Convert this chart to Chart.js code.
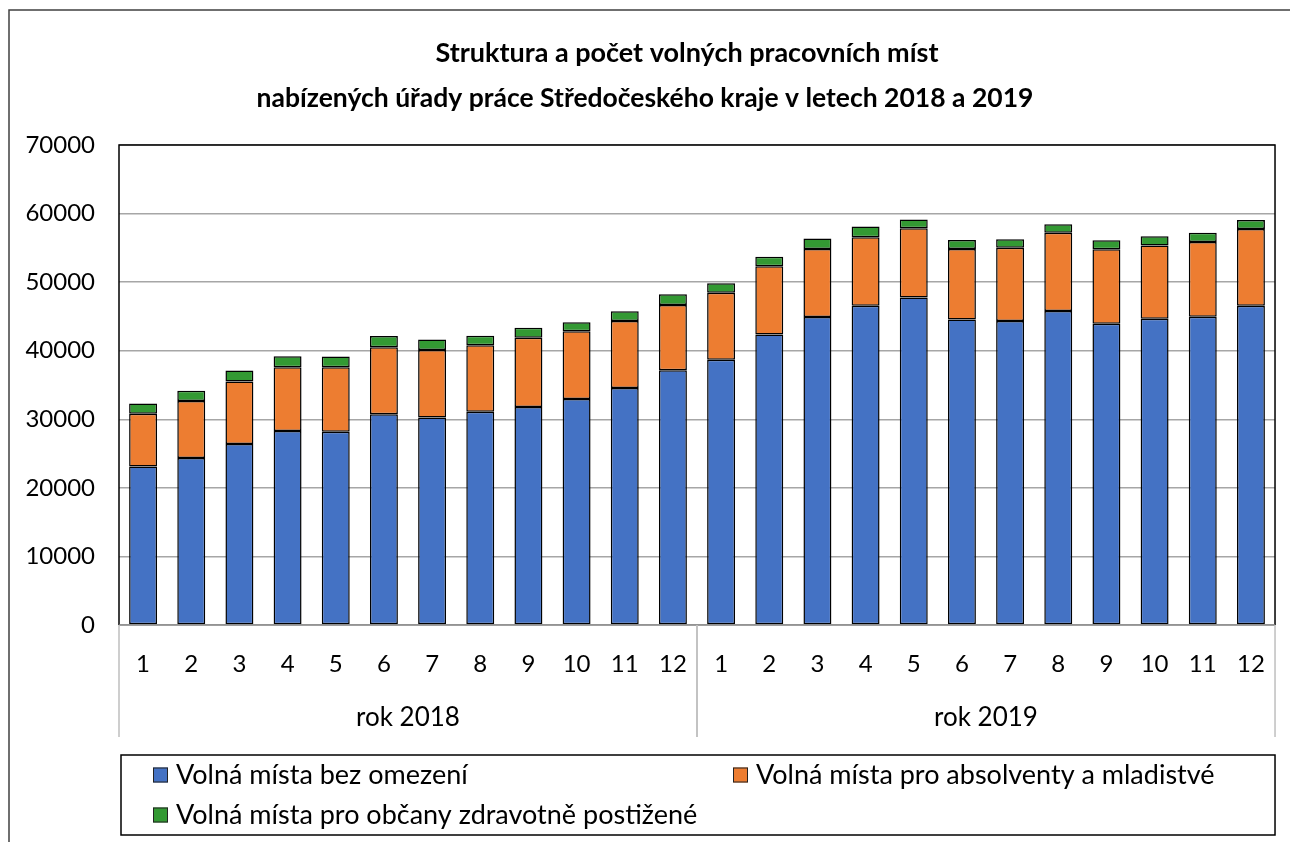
<!DOCTYPE html>
<html lang="cs">
<head>
<meta charset="utf-8">
<title>Volná pracovní místa – Středočeský kraj 2018–2019</title>
<script src="https://cdn.jsdelivr.net/npm/chart.js@4.4.1/dist/chart.umd.min.js"></script>
<style>
  html, body { margin: 0; padding: 0; background: #fff; }
  #wrap { width: 1290px; height: 842px; position: relative; }
</style>
</head>
<body>
<div id="wrap"><canvas id="chart" width="1290" height="842"></canvas></div>
<script>
// --- DATA ---
const months = ['1','2','3','4','5','6','7','8','9','10','11','12',
                '1','2','3','4','5','6','7','8','9','10','11','12'];
const years = ['rok 2018', 'rok 2019'];
const monthsPerYear = 12;

const bezOmezeni = [23100, 24350, 26400, 28300, 28200, 30750, 30250, 31100, 31800, 32950, 34550, 37150,
                    38700, 42350, 44900, 46550, 47750, 44550, 44350, 45800, 43950, 44650, 44950, 46550];
const absolventi = [7700, 8300, 9100, 9300, 9400, 9750, 9850, 9700, 10100, 9900, 9800, 9500,
                    9750, 9950, 9950, 10000, 10100, 10300, 10650, 11400, 10850, 10700, 10900, 11200];
const postizeni  = [1500, 1500, 1600, 1600, 1550, 1650, 1550, 1400, 1450, 1300, 1400, 1600,
                    1400, 1400, 1500, 1550, 1300, 1300, 1250, 1250, 1300, 1350, 1350, 1300];

const seriesNames = [
    'Volná místa bez omezení',
    'Volná místa pro absolventy a mladistvé',
    'Volná místa pro občany zdravotně postižené'
];
const seriesColors = ['#4472C4', '#ED7D31', '#339933'];

const titleLines = [
    'Struktura a počet volných pracovních míst',
    'nabízených úřady práce Středočeského kraje v letech 2018 a 2019'
];
const yMin = 0, yMax = 70000, yStep = 10000;

const FONT = 'Lato, "Open Sans", sans-serif';

// --- DECORATION PLUGIN: frame, title, plot border, year groups, legend box ---
const excelLook = {
    id: 'excelLook',
    beforeDraw(chart) {
        const { ctx } = chart;
        ctx.save();
        ctx.strokeStyle = '#404040';
        ctx.lineWidth = 1.5;
        ctx.beginPath();
        ctx.moveTo(9, 842);
        ctx.lineTo(9, 10);
        ctx.lineTo(1290, 10);
        ctx.stroke();

        // title (first line sits a bit right, as in the original)
        ctx.fillStyle = '#000';
        ctx.font = 'bold 27px ' + FONT;
        ctx.textAlign = 'center';
        ctx.textBaseline = 'middle';
        ctx.fillText(titleLines[0], 687, 53);
        ctx.font = 'bold 26.5px ' + FONT;
        ctx.fillText(titleLines[1], 645, 98);
        ctx.restore();
    },
    afterDraw(chart) {
        const { ctx, chartArea: a } = chart;
        const x = chart.scales.x;
        ctx.save();

        // plot border
        ctx.strokeStyle = '#000';
        ctx.lineWidth = 1.5;
        ctx.beginPath();
        ctx.moveTo(a.left, a.bottom);
        ctx.lineTo(a.left, a.top);
        ctx.lineTo(a.right, a.top);
        ctx.lineTo(a.right, a.bottom);
        ctx.stroke();
        ctx.strokeStyle = '#8c8c8c';
        ctx.beginPath();
        ctx.moveTo(a.left, a.bottom);
        ctx.lineTo(a.right, a.bottom);
        ctx.stroke();

        // year groups under the month labels
        const half = (x.getPixelForValue(1) - x.getPixelForValue(0)) / 2;
        ctx.strokeStyle = '#bfbfbf';
        ctx.lineWidth = 1.5;
        ctx.fillStyle = '#000';
        ctx.font = '26px ' + FONT;
        ctx.textAlign = 'center';
        ctx.textBaseline = 'middle';
        years.forEach((yr, i) => {
            const l = x.getPixelForValue(i * monthsPerYear) - half;
            const r = x.getPixelForValue(i * monthsPerYear + monthsPerYear - 1) + half;
            ctx.beginPath();
            ctx.moveTo(l, a.bottom); ctx.lineTo(l, a.bottom + 112);
            ctx.moveTo(r, a.bottom); ctx.lineTo(r, a.bottom + 112);
            ctx.stroke();
            ctx.fillText(yr, (l + r) / 2, 718);
        });

        // legend
        const box = { left: 121, top: 755, right: a.right, bottom: 835 };
        ctx.strokeStyle = '#000';
        ctx.lineWidth = 1.5;
        ctx.strokeRect(box.left, box.top, box.right - box.left, box.bottom - box.top);
        const cols = [box.left + 32, box.left + 612];
        const rows = [box.top + 20, box.top + 60];
        ctx.font = '27px ' + FONT;
        ctx.textAlign = 'left';
        chart.data.datasets.forEach((ds, i) => {
            const cx = cols[i % 2], cy = rows[Math.floor(i / 2)];
            ctx.fillStyle = ds.backgroundColor;
            ctx.fillRect(cx, cy - 7.5, 15, 15);
            ctx.strokeStyle = '#222';
            ctx.lineWidth = 1;
            ctx.strokeRect(cx + 0.5, cy - 7, 14, 14);
            ctx.fillStyle = '#000';
            ctx.fillText(ds.label, cx + 23, cy);
        });
        ctx.restore();
    }
};

const datasets = [bezOmezeni, absolventi, postizeni].map((vals, i) => ({
    label: seriesNames[i],
    data: vals,
    backgroundColor: seriesColors[i],
    borderColor: '#000',
    borderWidth: 1.5,
    borderSkipped: false,
    barPercentage: 0.58,
    categoryPercentage: 1
}));

new Chart(document.getElementById('chart'), {
    type: 'bar',
    data: { labels: months, datasets },
    options: {
        responsive: false,
        animation: false,
        layout: { padding: { top: 145, right: 7, bottom: 105, left: 0 } },
        plugins: {
            legend: { display: false },
            title: { display: false },
            tooltip: { enabled: false }
        },
        scales: {
            x: {
                stacked: true,
                grid: { display: false, drawTicks: false },
                border: { display: false },
                ticks: { color: '#000', font: { family: FONT, size: 24 }, padding: 25, maxRotation: 0, autoSkip: false },
                afterFit: (s) => { s.height = 112; }
            },
            y: {
                stacked: true,
                min: yMin, max: yMax,
                grid: { color: '#a6a6a6', lineWidth: 1.5, drawTicks: false },
                border: { display: false },
                ticks: {
                    stepSize: yStep, color: '#000', font: { family: FONT, size: 24 }, padding: 24,
                    callback: (v) => String(v)
                },
                afterFit: (s) => { s.width = 119; }
            }
        }
    },
    plugins: [excelLook]
});
</script>
</body>
</html>
